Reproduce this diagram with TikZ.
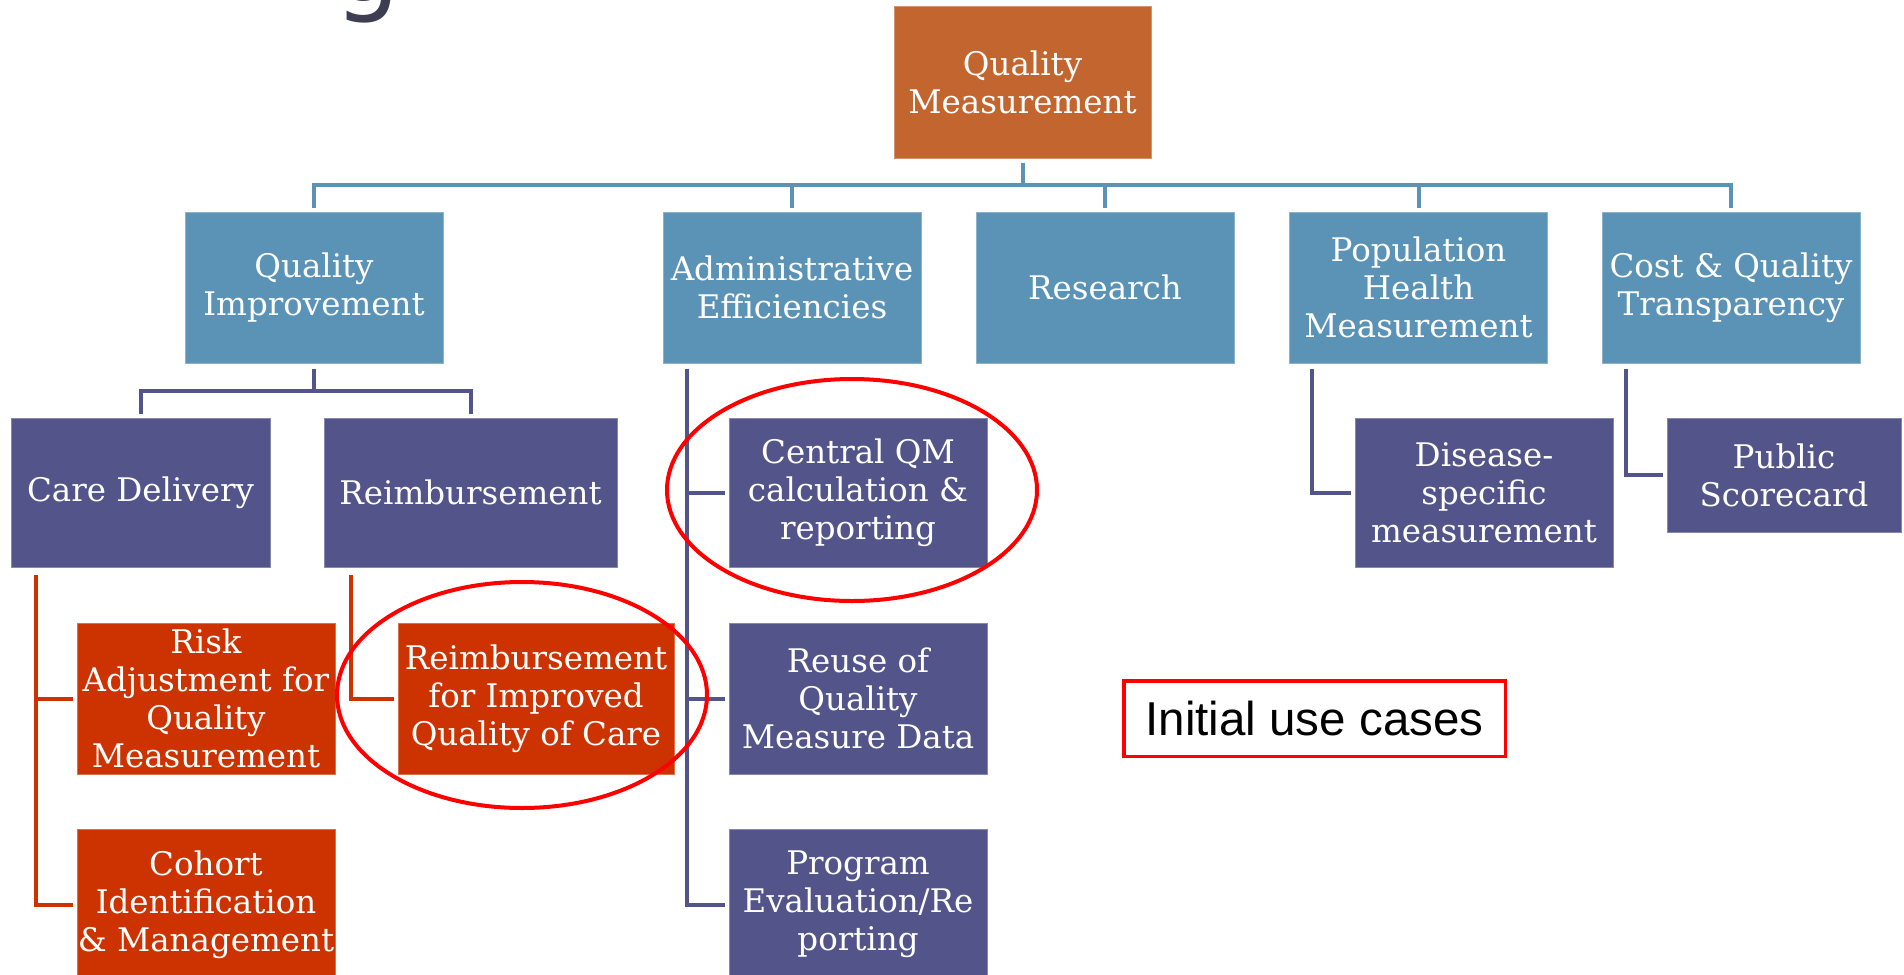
\documentclass[tikz,border=0pt]{standalone}
\usepackage{fontspec}
\usepackage{graphicx}
\usetikzlibrary{shapes.geometric}
\newfontfamily\boxfont{DejaVu Serif}
\newfontfamily\labfont{Liberation Sans}
\newfontfamily\ttlfont{DejaVu Sans}
\definecolor{topc}{HTML}{C3652F}
\definecolor{bluec}{HTML}{5B93B6}
\definecolor{purc}{HTML}{53558A}
\definecolor{redc}{HTML}{CC3300}
\definecolor{ttlc}{HTML}{3E3E52}
\begin{document}
\begin{tikzpicture}[x=0.5pt,y=-0.5pt,
  box/.style={rectangle, inner sep=0pt, align=center, text=white,
    font=\boxfont\fontsize{16.25pt}{19pt}\selectfont,
    fill=#1, draw=#1!70!white, line width=0.5pt},
  bcon/.style={draw=bluec, line width=2pt},
  pcon/.style={draw=purc, line width=2pt},
  rcon/.style={draw=redc, line width=2pt},
  ring/.style={ellipse, draw=red, line width=2pt, inner sep=0pt}]
\useasboundingbox (0,0) rectangle (1904,974);
\clip (0,0) rectangle (1904,974);

% partial title (cut off at top)
\node[anchor=base, inner sep=0pt, text=ttlc, font=\ttlfont\fontsize{52pt}{60pt}\selectfont] (ttl) at (368,2) {g};

% level 0
\node[box=topc, minimum width=128.5pt, minimum height=75.5pt] (top) at (1022.5,82.5) {Quality\\Measurement};

% level 1
\node[box=bluec, minimum width=129pt, minimum height=75.5pt] (qi)   at (314,287.5)   {Quality\\Improvement};
\node[box=bluec, minimum width=129pt, minimum height=75.5pt] (ae)   at (792,287.5)   {Administrative\\Efficiencies};
\node[box=bluec, minimum width=129pt, minimum height=75.5pt] (res)  at (1105,287.5)  {Research};
\node[box=bluec, minimum width=129pt, minimum height=75.5pt] (pop)  at (1418.5,287.5){Population\\Health\\Measurement};
\node[box=bluec, minimum width=129pt, minimum height=75.5pt] (cost) at (1731,287.5)  {Cost \& Quality\\Transparency};

% level 2
\node[box=purc, minimum width=129.5pt, minimum height=74.5pt] (cd)  at (140.5,492.5) {Care Delivery};
\node[box=purc, minimum width=146.5pt, minimum height=74.5pt] (rb)  at (470.5,492.5) {Reimbursement};
\node[box=purc, minimum width=129pt, minimum height=74.5pt]   (cqm) at (858,492.5)   {Central QM\\calculation \&\\reporting};
\node[box=purc, minimum width=129pt, minimum height=74.5pt]   (dis) at (1484,492.5)  {Disease-\\specific\\measurement};
\node[box=purc, minimum width=117pt, minimum height=57pt]     (pub) at (1784,475)    {Public\\Scorecard};

% level 3
\node[box=redc, minimum width=129pt, minimum height=75.5pt] (risk)   at (206,698.5) {Risk\\Adjustment for\\Quality\\Measurement};
\node[box=redc, minimum width=138pt, minimum height=75.5pt] (rfi)    at (536,698.5) {Reimbursement\\for Improved\\Quality of Care};
\node[box=purc, minimum width=129pt, minimum height=75.5pt] (reuse)  at (858,698.5) {Reuse of\\Quality\\Measure Data};
\node[box=redc, minimum width=129pt, minimum height=75.5pt] (cohort) at (206,904.5) {Cohort\\Identification\\\& Management};
\node[box=purc, minimum width=129pt, minimum height=75.5pt] (prog)   at (858,904.5) {Program\\Evaluation/Re\\porting};

% top bus
\coordinate (bus) at (0,185);
\draw[bcon] ([yshift=-2pt]top.south) -- (top.south |- bus);
\foreach \n in {qi,ae,res,pop,cost}
  \draw[bcon] (top.south |- bus) -| ([yshift=2pt]\n.north);

% quality improvement children
\coordinate (qbus) at (0,391);
\draw[pcon] ([yshift=-2.5pt]qi.south) -- (qi.south |- qbus);
\draw[pcon] (qi.south |- qbus) -| ([yshift=2pt]cd.north);
\draw[pcon] (qi.south |- qbus) -| ([yshift=2pt]rb.north);

% care delivery children
\draw[rcon] ([xshift=12.5pt,yshift=-3.5pt]cd.south west) |- ([xshift=-2pt]cohort.west);
\draw[rcon] ([xshift=12.5pt,yshift=-3.5pt]cd.south west) |- ([xshift=-2pt]risk.west);
% reimbursement child
\draw[rcon] ([xshift=13.5pt,yshift=-3.5pt]rb.south west) |- ([xshift=-2pt]rfi.west);
% administrative efficiencies children
\draw[pcon] ([xshift=12pt,yshift=-2.5pt]ae.south west) |- ([xshift=-2pt]prog.west);
\draw[pcon] ([xshift=12pt,yshift=-2.5pt]ae.south west) |- ([xshift=-2pt]reuse.west);
\draw[pcon] ([xshift=12pt,yshift=-2.5pt]ae.south west) |- ([xshift=-2pt]cqm.west);
% population health child
\draw[pcon] ([xshift=11.5pt,yshift=-2.5pt]pop.south west) |- ([xshift=-2pt]dis.west);
% cost & quality child
\draw[pcon] ([xshift=12pt,yshift=-2.5pt]cost.south west) |- ([xshift=-2pt]pub.west);

% highlight rings
\node[ring, minimum width=185pt, minimum height=113pt] (ring1) at (522,695) {};
\node[ring, minimum width=185pt, minimum height=111pt] (ring2) at (852,490) {};

% legend
\node[draw=red, line width=1.75pt, inner sep=0pt, minimum width=190.75pt, minimum height=37.75pt,
  font=\labfont\fontsize{23.75pt}{28pt}\selectfont] (iuc) at (1314.5,718.5) {Initial use cases};
\end{tikzpicture}
\end{document}
